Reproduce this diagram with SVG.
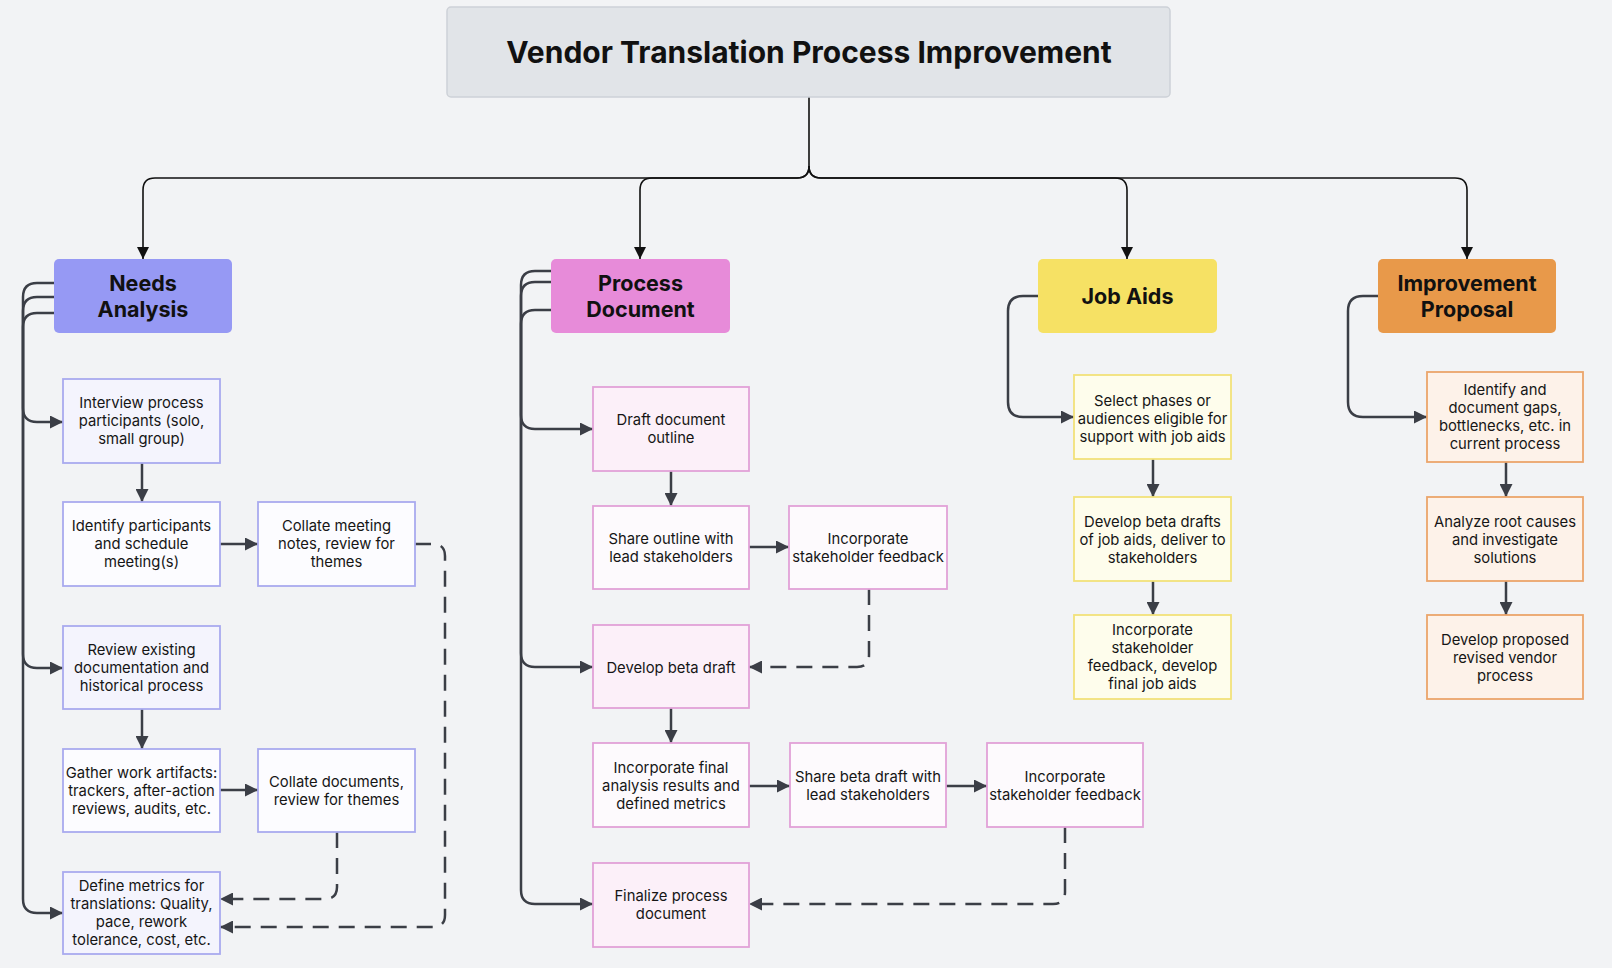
<svg xmlns="http://www.w3.org/2000/svg" width="1612" height="968" viewBox="0 0 1612 968">
<defs>
<marker id="ah" viewBox="0 0 12 12" markerWidth="13" markerHeight="13" markerUnits="userSpaceOnUse" refX="12" refY="6" orient="auto"><path d="M0,0 L12,6 L0,12 z" fill="#3b3e46"/></marker>
<marker id="ak" viewBox="0 0 12 12" markerWidth="12" markerHeight="12" markerUnits="userSpaceOnUse" refX="12" refY="6" orient="auto"><path d="M0,0 L12,6 L0,12 z" fill="#111"/></marker>
</defs>
<style>
text{font-family:Inter,"Liberation Sans",sans-serif;fill:#161616;text-anchor:middle;dominant-baseline:central}
.t{font-size:14.8px}
.h{font-size:21.5px;font-weight:700;fill:#111}
.title{font-size:30px;font-weight:700;fill:#111}
.top{fill:none;stroke:#111;stroke-width:1.6}
.c{fill:none;stroke:#3b3e46;stroke-width:2.5}
.d{fill:none;stroke:#3b3e46;stroke-width:2.5;stroke-dasharray:16 10}
.na{fill:#f4f4fd;stroke:#a9aaef;stroke-width:1.8}
.naw{fill:#fcfcff;stroke:#a9aaef;stroke-width:1.8}
.pd{fill:#fcf0f9;stroke:#e2a1d8;stroke-width:1.8}
.pdw{fill:#fdfafd;stroke:#e2a1d8;stroke-width:1.8}
.ja{fill:#fefdec;stroke:#f2e27a;stroke-width:1.8}
.ip{fill:#fdf2e9;stroke:#eba56b;stroke-width:1.8}
</style>
<rect width="1612" height="968" fill="#f2f3f5"/>

<g id="connectors">
<path class="top" d="M809,97 L809,166 Q809,178 797,178 L155,178 Q143,178 143,190 L143,259" marker-end="url(#ak)"/>
<path class="top" d="M809,166 Q809,178 797,178 L652,178 Q640,178 640,190 L640,259" marker-end="url(#ak)"/>
<path class="top" d="M809,166 Q809,178 821,178 L1115,178 Q1127,178 1127,190 L1127,259" marker-end="url(#ak)"/>
<path class="top" d="M809,166 Q809,178 821,178 L1455,178 Q1467,178 1467,190 L1467,259" marker-end="url(#ak)"/>

<path class="c" d="M54,313 L37,313 Q23,313 23,327 L23,408 Q23,422 37,422 L63,422" marker-end="url(#ah)"/>
<path class="c" d="M54,297 L37,297 Q23,297 23,311 L23,654 Q23,668 37,668 L63,668" marker-end="url(#ah)"/>
<path class="c" d="M54,283 L37,283 Q23,283 23,297 L23,899 Q23,913 37,913 L63,913" marker-end="url(#ah)"/>
<path class="c" d="M142,463 L142,502" marker-end="url(#ah)"/>
<path class="c" d="M142,709 L142,749" marker-end="url(#ah)"/>
<path class="c" d="M220,544 L258,544" marker-end="url(#ah)"/>
<path class="c" d="M220,790 L258,790" marker-end="url(#ah)"/>
<path class="d" d="M415,544 L433,544 Q445,544 445,556 L445,915 Q445,927 433,927 L220,927" marker-end="url(#ah)"/>
<path class="d" d="M337,832 L337,887 Q337,899 325,899 L220,899" marker-end="url(#ah)"/>

<path class="c" d="M551,310 L535,310 Q521,310 521,324 L521,415 Q521,429 535,429 L593,429" marker-end="url(#ah)"/>
<path class="c" d="M551,282 L535,282 Q521,282 521,296 L521,653 Q521,667 535,667 L593,667" marker-end="url(#ah)"/>
<path class="c" d="M551,271 L535,271 Q521,271 521,285 L521,890 Q521,904 535,904 L593,904" marker-end="url(#ah)"/>
<path class="c" d="M671,471 L671,506" marker-end="url(#ah)"/>
<path class="c" d="M749,547 L789,547" marker-end="url(#ah)"/>
<path class="d" d="M869,589 L869,655 Q869,667 857,667 L749,667" marker-end="url(#ah)"/>
<path class="c" d="M671,708 L671,743" marker-end="url(#ah)"/>
<path class="c" d="M749,786 L790,786" marker-end="url(#ah)"/>
<path class="c" d="M946,786 L987,786" marker-end="url(#ah)"/>
<path class="d" d="M1065,827 L1065,892 Q1065,904 1053,904 L749,904" marker-end="url(#ah)"/>

<path class="c" d="M1038,296 L1023,296 Q1008,296 1008,311 L1008,402 Q1008,417 1023,417 L1074,417" marker-end="url(#ah)"/>
<path class="c" d="M1153,459 L1153,497" marker-end="url(#ah)"/>
<path class="c" d="M1153,581 L1153,615" marker-end="url(#ah)"/>

<path class="c" d="M1378,296 L1363,296 Q1348,296 1348,311 L1348,402 Q1348,417 1363,417 L1427,417" marker-end="url(#ah)"/>
<path class="c" d="M1506,462 L1506,497" marker-end="url(#ah)"/>
<path class="c" d="M1506,581 L1506,615" marker-end="url(#ah)"/>
</g>

<g id="title"><rect x="447" y="7" width="723" height="90" rx="4" fill="#e1e4e8" stroke="#cdd1d7" stroke-width="1.5"/><text class="title" x="809" y="52">Vendor Translation Process Improvement</text></g>

<g id="needs-analysis"><rect x="54" y="259" width="178" height="74" rx="5" fill="#9699f4"/><text class="h" x="143" y="283">Needs</text><text class="h" x="143" y="309">Analysis</text></g>
<g id="process-document"><rect x="551" y="259" width="179" height="74" rx="5" fill="#e78bd9"/><text class="h" x="640.5" y="283">Process</text><text class="h" x="640.5" y="309">Document</text></g>
<g id="job-aids"><rect x="1038" y="259" width="179" height="74" rx="5" fill="#f6e164"/><text class="h" x="1127.5" y="296">Job Aids</text></g>
<g id="improvement-proposal"><rect x="1378" y="259" width="178" height="74" rx="5" fill="#e8994a"/><text class="h" x="1467" y="283">Improvement</text><text class="h" x="1467" y="309">Proposal</text></g>

<g id="interview"><rect class="na" x="63" y="379" width="157" height="84"/><text class="t" x="141.5" y="403">Interview process</text><text class="t" x="141.5" y="421">participants (solo,</text><text class="t" x="141.5" y="439">small group)</text></g>
<g id="identify-participants"><rect class="naw" x="63" y="502" width="157" height="84"/><text class="t" x="141.5" y="526">Identify participants</text><text class="t" x="141.5" y="544">and schedule</text><text class="t" x="141.5" y="562">meeting(s)</text></g>
<g id="collate-notes"><rect class="naw" x="258" y="502" width="157" height="84"/><text class="t" x="336.5" y="526">Collate meeting</text><text class="t" x="336.5" y="544">notes, review for</text><text class="t" x="336.5" y="562">themes</text></g>
<g id="review-docs"><rect class="na" x="63" y="626" width="157" height="83"/><text class="t" x="141.5" y="650">Review existing</text><text class="t" x="141.5" y="668">documentation and</text><text class="t" x="141.5" y="686">historical process</text></g>
<g id="gather"><rect class="naw" x="63" y="749" width="157" height="83"/><text class="t" x="141.5" y="773">Gather work artifacts:</text><text class="t" x="141.5" y="791">trackers, after-action</text><text class="t" x="141.5" y="809">reviews, audits, etc.</text></g>
<g id="collate-docs"><rect class="naw" x="258" y="749" width="157" height="83"/><text class="t" x="336.5" y="782">Collate documents,</text><text class="t" x="336.5" y="800">review for themes</text></g>
<g id="define-metrics"><rect class="na" x="63" y="872" width="157" height="82"/><text class="t" x="141.5" y="886">Define metrics for</text><text class="t" x="141.5" y="904">translations: Quality,</text><text class="t" x="141.5" y="922">pace, rework</text><text class="t" x="141.5" y="940">tolerance, cost, etc.</text></g>

<g id="draft-outline"><rect class="pd" x="593" y="387" width="156" height="84"/><text class="t" x="671" y="420">Draft document</text><text class="t" x="671" y="438">outline</text></g>
<g id="share-outline"><rect class="pdw" x="593" y="506" width="156" height="83"/><text class="t" x="671" y="539">Share outline with</text><text class="t" x="671" y="557">lead stakeholders</text></g>
<g id="incorporate-1"><rect class="pdw" x="789" y="506" width="158" height="83"/><text class="t" x="868" y="539">Incorporate</text><text class="t" x="868" y="557">stakeholder feedback</text></g>
<g id="develop-beta"><rect class="pd" x="593" y="625" width="156" height="83"/><text class="t" x="671" y="668">Develop beta draft</text></g>
<g id="incorporate-final"><rect class="pdw" x="593" y="743" width="156" height="84"/><text class="t" x="671" y="768">Incorporate final</text><text class="t" x="671" y="786">analysis results and</text><text class="t" x="671" y="804">defined metrics</text></g>
<g id="share-beta"><rect class="pdw" x="790" y="743" width="156" height="84"/><text class="t" x="868" y="777">Share beta draft with</text><text class="t" x="868" y="795">lead stakeholders</text></g>
<g id="incorporate-2"><rect class="pdw" x="987" y="743" width="156" height="84"/><text class="t" x="1065" y="777">Incorporate</text><text class="t" x="1065" y="795">stakeholder feedback</text></g>
<g id="finalize"><rect class="pd" x="593" y="863" width="156" height="84"/><text class="t" x="671" y="896">Finalize process</text><text class="t" x="671" y="914">document</text></g>

<g id="select-phases"><rect class="ja" x="1074" y="375" width="157" height="84"/><text class="t" x="1152.5" y="401">Select phases or</text><text class="t" x="1152.5" y="419">audiences eligible for</text><text class="t" x="1152.5" y="437">support with job aids</text></g>
<g id="develop-drafts"><rect class="ja" x="1074" y="497" width="157" height="84"/><text class="t" x="1152.5" y="522">Develop beta drafts</text><text class="t" x="1152.5" y="540">of job aids, deliver to</text><text class="t" x="1152.5" y="558">stakeholders</text></g>
<g id="final-job-aids"><rect class="ja" x="1074" y="615" width="157" height="84"/><text class="t" x="1152.5" y="630">Incorporate</text><text class="t" x="1152.5" y="648">stakeholder</text><text class="t" x="1152.5" y="666">feedback, develop</text><text class="t" x="1152.5" y="684">final job aids</text></g>

<g id="identify-gaps"><rect class="ip" x="1427" y="372" width="156" height="90"/><text class="t" x="1505" y="390">Identify and</text><text class="t" x="1505" y="408">document gaps,</text><text class="t" x="1505" y="426">bottlenecks, etc. in</text><text class="t" x="1505" y="444">current process</text></g>
<g id="analyze"><rect class="ip" x="1427" y="497" width="156" height="84"/><text class="t" x="1505" y="522">Analyze root causes</text><text class="t" x="1505" y="540">and investigate</text><text class="t" x="1505" y="558">solutions</text></g>
<g id="develop-proposed"><rect class="ip" x="1427" y="615" width="156" height="84"/><text class="t" x="1505" y="640">Develop proposed</text><text class="t" x="1505" y="658">revised vendor</text><text class="t" x="1505" y="676">process</text></g>
</svg>
